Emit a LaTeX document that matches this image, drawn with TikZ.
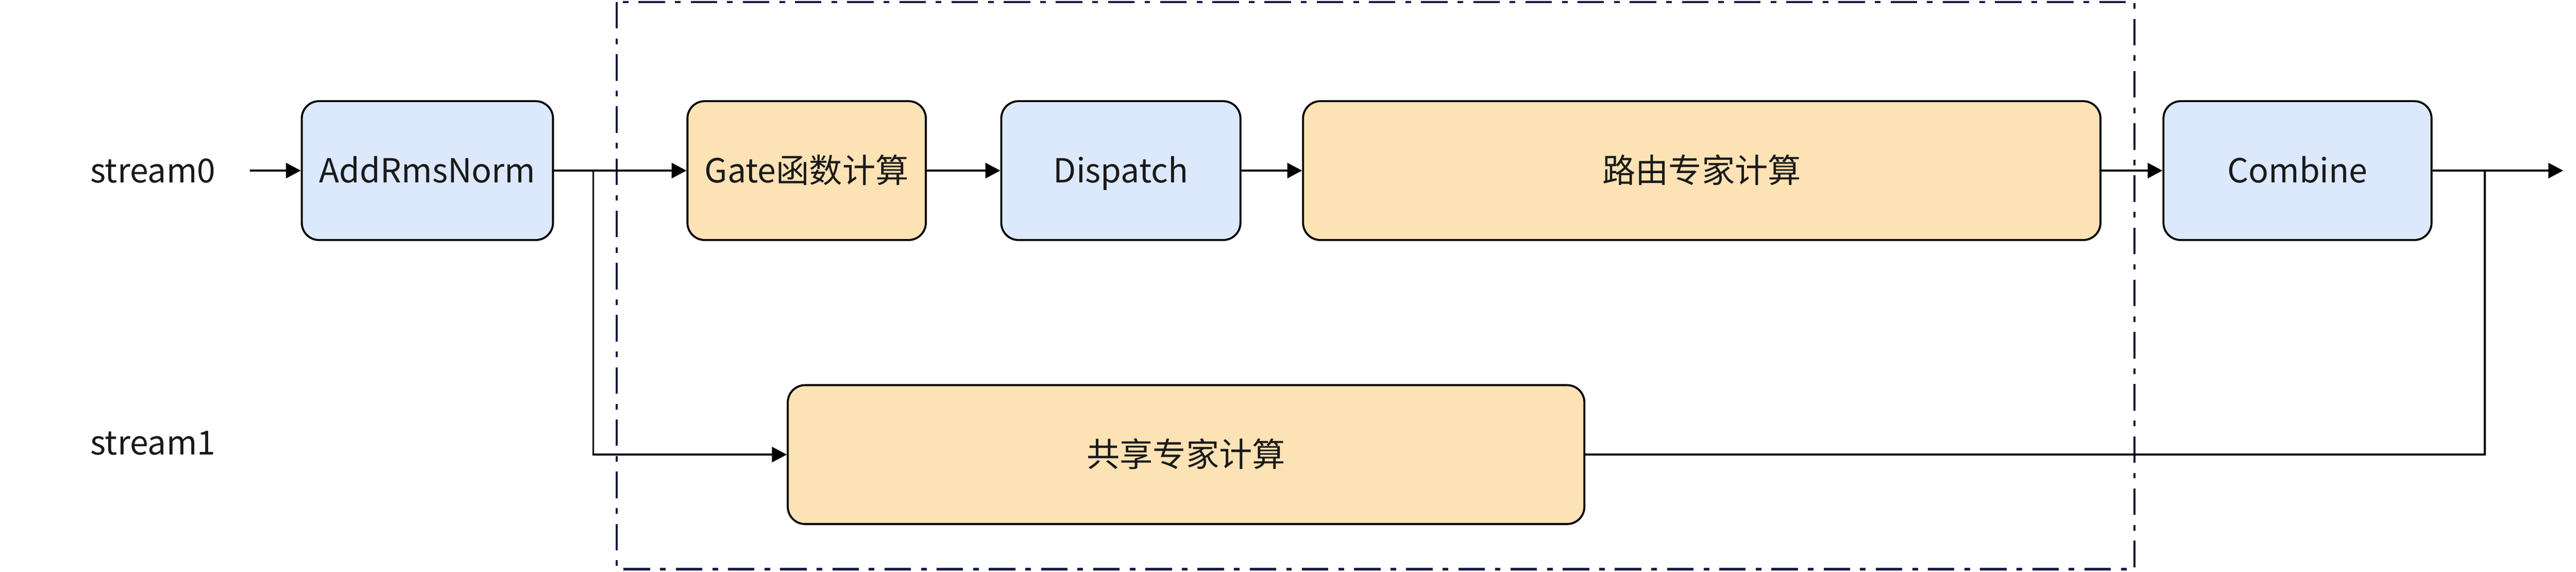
\documentclass[tikz,border=0pt]{standalone}
\usepackage{fontspec}
\setmainfont{Noto Sans CJK SC}
\usetikzlibrary{arrows.meta}
\definecolor{blueFill}{HTML}{DCE8FC}
\definecolor{orangeFill}{HTML}{FDE2B5}
\definecolor{frameLine}{HTML}{141A40}
\definecolor{txt}{HTML}{1A1A1A}
\tikzset{
  lbl/.style={font=\fontsize{23.5}{28}\selectfont, text=txt, text height=22pt, text depth=5pt, inner sep=0pt},
  block/.style={lbl, draw=black, line width=1.4pt, rounded corners=0.43cm, minimum height=3.46cm},
  blueblock/.style={block, fill=blueFill},
  orangeblock/.style={block, fill=orangeFill},
  frame/.style={draw=frameLine, line width=1.5pt, dash pattern=on 0.66cm off 0.25cm on 0.14cm off 0.25cm}
}

\begin{document}
\begin{tikzpicture}[line cap=butt,line join=miter,>={Triangle[length=3.7mm,width=3.8mm]},x=1cm,y=1cm]
\useasboundingbox (0,0) rectangle (64.19,14.25);
\draw [frame] (15.37,14.20) rectangle (53.19,0.07);
\node [lbl,anchor=west] (s0) at (2.24,10) {stream0};
\node [lbl,anchor=west] (s1) at (2.24,3.22) {stream1};
\node [blueblock,minimum width=6.26cm] (addnorm) at (10.65,10) {AddRmsNorm};
\node [orangeblock,minimum width=5.94cm] (gate) at (20.10,10) {Gate函数计算};
\node [blueblock,minimum width=5.96cm] (dispatch) at (27.93,10) {Dispatch};
\node [orangeblock,minimum width=19.87cm] (routing) at (42.405,10) {路由专家计算};
\node [blueblock,minimum width=6.68cm] (combine) at (57.25,10) {Combine};
\node [orangeblock,minimum width=19.85cm] (shared) at (29.555,2.925) {共享专家计算};
\coordinate (in0) at (6.22,10);
\coordinate (out) at (63.87,10);
\coordinate (split) at (14.78,10);
\coordinate (join) at (61.92,10);
\draw [->,line width=1.3pt] (in0) -- (addnorm);
\draw [->,line width=1.3pt] (addnorm) -- (gate);
\draw [->,line width=1.3pt] (gate) -- (dispatch);
\draw [->,line width=1.3pt] (dispatch) -- (routing);
\draw [->,line width=1.3pt] (routing) -- (combine);
\draw [->,line width=1.3pt] (combine) -- (out);
\draw [->,line width=1.3pt] (split) |- (shared);
\draw [line width=1.3pt] (shared) -| (join);
\end{tikzpicture}
\end{document}
